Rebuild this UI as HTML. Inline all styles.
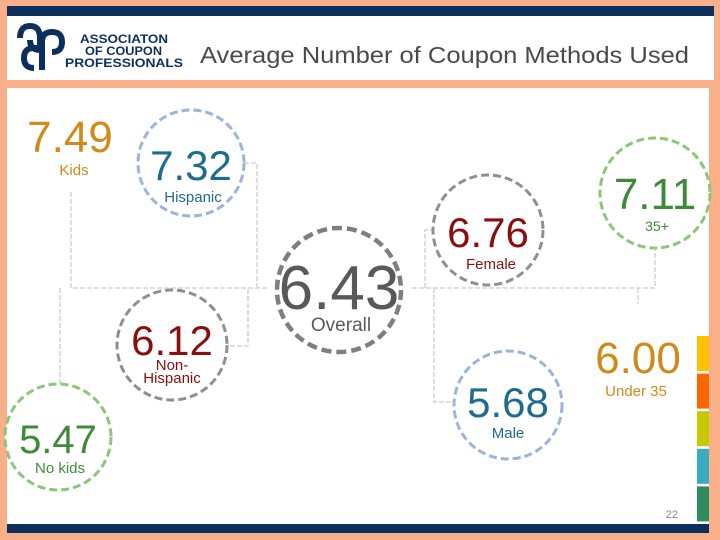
<!DOCTYPE html>
<html><head><meta charset="utf-8"><style>
html,body{margin:0;padding:0;width:720px;height:540px;overflow:hidden;background:#f9b089;}
#stage{position:absolute;left:0;top:0;width:720px;height:540px;}
text{font-family:"Liberation Sans",sans-serif;}
</style></head><body>
<svg id="stage" width="720" height="540">
  <rect x="0" y="0" width="720" height="540" fill="#f9b089"/>
  <rect x="7" y="6" width="707" height="74" fill="#ffffff"/>
  <rect x="7" y="6" width="707" height="10" fill="#0c2f5e"/>
  <g>
    <path d="M20 38 q0-12 10-12 q10 0 10 12 v12 q-10 0-10-10" fill="none" stroke="#0c2f5e" stroke-width="6"/>
    <path d="M34 68 q-10 0-10-10 q0-10 10-10 h4" fill="none" stroke="#0c2f5e" stroke-width="6"/>
    <path d="M42 70 v-28 q0-10 10-10 q10 0 10 10 q0 10-10 10" fill="none" stroke="#0c2f5e" stroke-width="6"/>
    <text x="80" y="43" font-size="12" font-weight="bold" fill="#0c2f5e" textLength="88" lengthAdjust="spacingAndGlyphs">ASSOCIATON</text>
    <text x="85" y="55" font-size="12" font-weight="bold" fill="#0c2f5e" textLength="77" lengthAdjust="spacingAndGlyphs">OF COUPON</text>
    <text x="65" y="67" font-size="12" font-weight="bold" fill="#0c2f5e" textLength="118" lengthAdjust="spacingAndGlyphs">PROFESSIONALS</text>
  </g>
  <text x="200" y="63" font-size="23" fill="#4a4a4a" textLength="489" lengthAdjust="spacingAndGlyphs">Average Number of Coupon Methods Used</text>
  <rect x="7" y="88" width="702" height="444" fill="#ffffff"/>
  <rect x="7" y="524" width="702" height="9" fill="#0c2f5e"/>
  <g id="strips"></g>
  <text x="678" y="518" font-size="11" fill="#888" text-anchor="end" font-family="Liberation Serif">22</text>
  <g id="links"></g>
  <g id="nodes"></g>
</svg>
<script>
// Data
const segments = ["Kids","Hispanic","Overall","Non-Hispanic","No kids","Female","35+","Male","Under 35"];
const values = [7.49, 7.32, 6.43, 6.12, 5.47, 6.76, 7.11, 5.68, 6.00];

// Layout (not data)
const layout = [
  {x:70,y:152,cy:0,r:0,fs:44,c:"#d08a1a",ring:null,lx:74,ly:175,lfs:15},
  {x:191,y:180,cy:163,r:53,fs:42,c:"#1f6b8e",ring:"#9db3d8",lx:193,ly:202,lfs:15},
  {x:339,y:309,cy:290,r:62,fs:62,c:"#595959",ring:"#7f7f7f",lx:341,ly:331,lfs:19},
  {x:172,y:355,cy:345,r:55,fs:42,c:"#8b0e0e",ring:"#8f8f8f",lx:172,ly:370,lfs:15},
  {x:58,y:453,cy:437,r:53,fs:40,c:"#3f8a3a",ring:"#8cc67a",lx:60,ly:473,lfs:15},
  {x:488,y:247,cy:230,r:55,fs:42,c:"#8b0e0e",ring:"#8f8f8f",lx:491,ly:269,lfs:15},
  {x:655,y:209,cy:193,r:55,fs:44,c:"#3f8a3a",ring:"#8cc67a",lx:657,ly:231,lfs:14},
  {x:508,y:417,cy:405,r:54,fs:42,c:"#1f6b8e",ring:"#9db3d8",lx:508,ly:438,lfs:15},
  {x:638,y:373,cy:0,r:0,fs:44,c:"#d08a1a",ring:null,lx:636,ly:396,lfs:15}
];
const NS="http://www.w3.org/2000/svg";
function slug(s){return s.toLowerCase().replace(/[^a-z0-9]+/g,'-').replace(/-$/,'');}

const stripColors=["#ffc000","#ff6600","#c8c800","#3aacc0","#2e8a5f"];
const strips=document.getElementById('strips');
stripColors.forEach((c,i)=>{
  const r=document.createElementNS(NS,'rect');
  r.setAttribute('x',697);r.setAttribute('y',336+i*37.6);r.setAttribute('width',12);r.setAttribute('height',35);r.setAttribute('fill',c);
  
  
  strips.appendChild(r);
});

const paths=[
  "M71 192 V288 H268","M244 163 H257 V288","M60 288 V384","M230 346 H248 V288",
  "M412 288 H655 V250","M425 288 V230 H433","M434 288 V402 H454","M638 288 V304"
];
const links=document.getElementById('links');
paths.forEach(d=>{
  const p=document.createElementNS(NS,'path');
  p.setAttribute('d',d);p.setAttribute('fill','none');p.setAttribute('stroke','#d4d4d4');
  p.setAttribute('stroke-width','1.5');p.setAttribute('stroke-dasharray','5 2');
  
  
  links.appendChild(p);
});

const nodes=document.getElementById('nodes');
segments.forEach((s,i)=>{
  const L=layout[i];
  const g=document.createElementNS(NS,'g');
  
  
  if(L.ring){
    const c=document.createElementNS(NS,'circle');
    c.setAttribute('cx',L.x);c.setAttribute('cy',L.cy);
    c.setAttribute('r',L.r);c.setAttribute('fill','#fff');c.setAttribute('stroke',L.ring);
    c.setAttribute('stroke-width',i==2?4.5:3);c.setAttribute('stroke-dasharray',i==2?'10 5':'8 4');
    
    
    g.appendChild(c);
  }
  const t=document.createElementNS(NS,'text');
  t.setAttribute('x',L.x);t.setAttribute('y',L.y);t.setAttribute('font-size',L.fs);
  t.setAttribute('fill',L.c);t.setAttribute('text-anchor','middle');
  t.textContent=values[i].toFixed(2);
  
  
  g.appendChild(t);
  const lines = s==="Non-Hispanic"?["Non-","Hispanic"]:[s];
  lines.forEach((ln,k)=>{
    const l=document.createElementNS(NS,'text');
    l.setAttribute('x',L.lx);l.setAttribute('y',L.ly+k*13);l.setAttribute('font-size',L.lfs);
    l.setAttribute('fill',L.c);l.setAttribute('text-anchor','middle');
    l.textContent=ln;
    
    
    g.appendChild(l);
  });
  nodes.appendChild(g);
});
</script>
</body></html>
